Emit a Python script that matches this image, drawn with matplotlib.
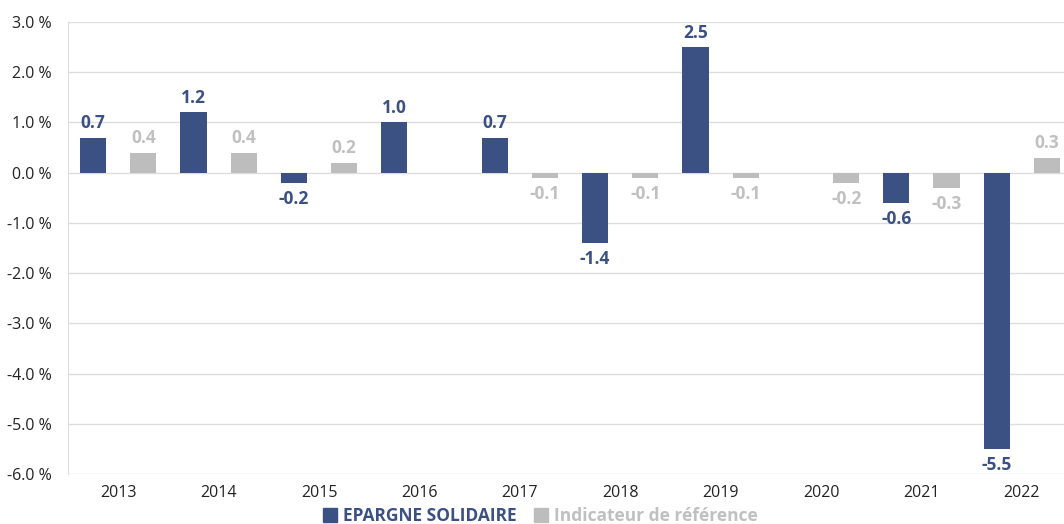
import matplotlib
matplotlib.use("Agg")
import matplotlib.pyplot as plt
import numpy as np

years = ["2013", "2014", "2015", "2016", "2017", "2018", "2019", "2020", "2021", "2022"]
epargne = [0.7, 1.2, -0.2, 1.0, 0.7, -1.4, 2.5, None, -0.6, -5.5]
reference = [0.4, 0.4, 0.2, None, -0.1, -0.1, -0.1, -0.2, -0.3, 0.3]
yticks = [3, 2, 1, 0, -1, -2, -3, -4, -5, -6]

DARK = "#3B5184"
GREY = "#BDBDBD"
GREY_TXT = "#C0C0C0"

plt.rcParams["font.family"] = ["Open Sans", "DejaVu Sans"]

fig = plt.figure(figsize=(10.64, 5.24), dpi=100)
ax = fig.add_axes([68 / 1064, 50 / 524, 1 - 68 / 1064, 452 / 524])

x = np.arange(len(years))
w = 0.26
off = 0.25


def draw(vals, dx, color, txt_color):
    for xi, v in zip(x, vals):
        if v is None:
            continue
        ax.bar(xi + dx, v, width=w, color=color, zorder=3)
        ax.annotate(f"{v:.1f}", (xi + dx, v), xytext=(0, 4 if v >= 0 else -5),
                    textcoords="offset points", ha="center",
                    va="bottom" if v >= 0 else "top",
                    fontsize=12.5, fontweight="bold", color=txt_color)


draw(epargne, -off, DARK, DARK)
draw(reference, off, GREY, GREY_TXT)

ax.set_xlim(-0.5, 9.42)
ax.set_ylim(-6, 3)
ax.set_yticks(yticks)
ax.set_yticklabels([f"{t:.1f} %" for t in yticks], fontsize=11.5, color="#222222")
ax.set_xticks(x)
ax.set_xticklabels(years, fontsize=11.5, color="#222222")
ax.tick_params(length=0, pad=8)
ax.tick_params(axis="y", pad=12)
ax.grid(axis="y", color="#DDDDDD", linewidth=1, zorder=0)
for s in ["top", "right", "bottom"]:
    ax.spines[s].set_visible(False)
ax.spines["left"].set_color("#DDDDDD")

handles = [plt.Rectangle((0, 0), 1, 1, color=DARK), plt.Rectangle((0, 0), 1, 1, color=GREY)]
leg = fig.legend(handles, ["EPARGNE SOLIDAIRE", "Indicateur de référence"], loc="center",
                 bbox_to_anchor=(540 / 1064, 8 / 524), ncol=2, frameon=False,
                 handlelength=0.8, handleheight=0.8, handletextpad=0.35, columnspacing=1.0,
                 prop={"size": 12.5, "weight": "bold"})
for t, c in zip(leg.get_texts(), [DARK, GREY_TXT]):
    t.set_color(c)

fig.savefig("out.png", dpi=100)
